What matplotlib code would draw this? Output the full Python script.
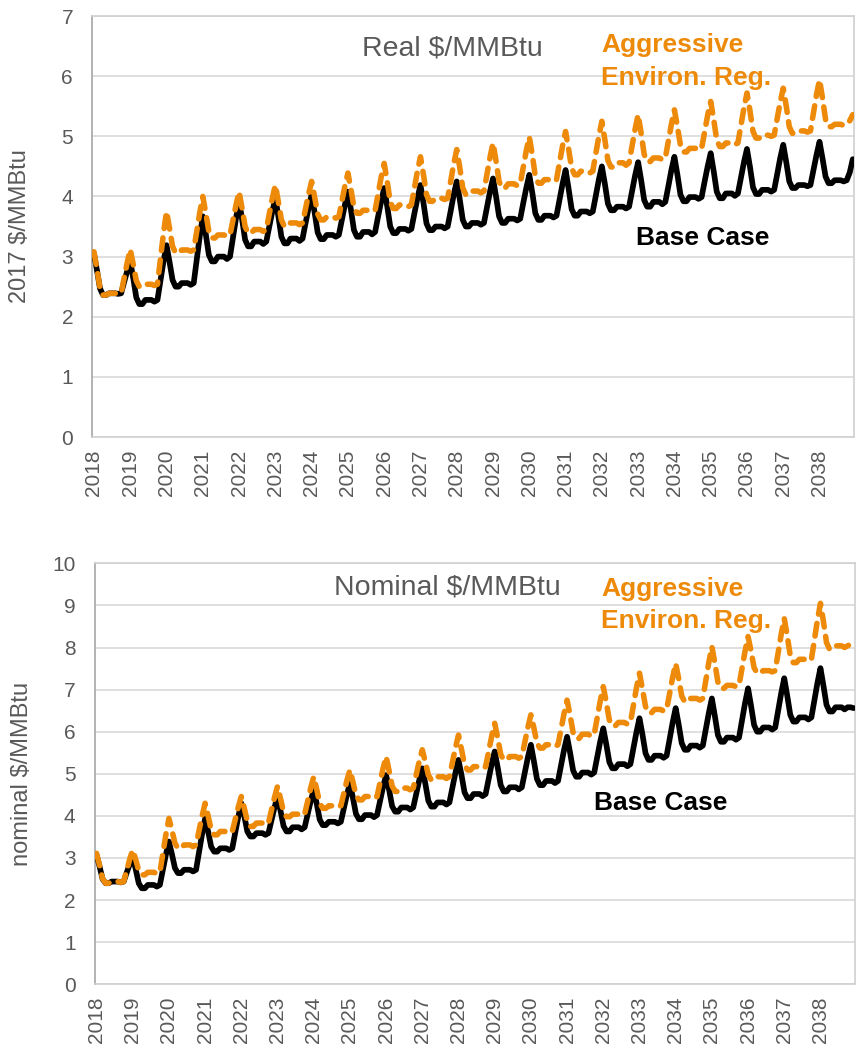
import numpy as np
import matplotlib
matplotlib.use('Agg')
import matplotlib.pyplot as plt

plt.rcParams['font.family'] = ['Liberation Sans', 'DejaVu Sans']

years = list(range(2018, 2039))
months = 12

# monthly prices, one row per year (Jan..Dec)
real_base = [
    [3.05, 2.77, 2.47, 2.36, 2.36, 2.39, 2.39, 2.39, 2.38, 2.39, 2.58, 2.76],
    [2.92, 2.64, 2.32, 2.21, 2.21, 2.28, 2.28, 2.28, 2.25, 2.28, 2.60, 2.92],
    [3.19, 2.91, 2.61, 2.50, 2.50, 2.56, 2.56, 2.56, 2.53, 2.56, 2.95, 3.34],
    [3.67, 3.37, 3.03, 2.92, 2.92, 3.00, 3.00, 3.00, 2.96, 3.00, 3.32, 3.64],
    [3.92, 3.62, 3.28, 3.17, 3.17, 3.25, 3.25, 3.25, 3.21, 3.25, 3.50, 3.75],
    [3.97, 3.67, 3.33, 3.22, 3.22, 3.30, 3.30, 3.30, 3.26, 3.30, 3.56, 3.81],
    [4.03, 3.73, 3.40, 3.29, 3.29, 3.36, 3.36, 3.36, 3.33, 3.36, 3.61, 3.86],
    [4.08, 3.78, 3.44, 3.33, 3.33, 3.41, 3.41, 3.41, 3.37, 3.41, 3.67, 3.92],
    [4.14, 3.84, 3.50, 3.39, 3.39, 3.46, 3.46, 3.46, 3.43, 3.46, 3.72, 3.97],
    [4.19, 3.89, 3.55, 3.44, 3.44, 3.50, 3.50, 3.50, 3.47, 3.50, 3.76, 4.03],
    [4.25, 3.95, 3.61, 3.50, 3.50, 3.56, 3.56, 3.56, 3.53, 3.56, 3.82, 4.08],
    [4.30, 4.00, 3.67, 3.56, 3.56, 3.63, 3.63, 3.63, 3.60, 3.63, 3.89, 4.14],
    [4.36, 4.06, 3.72, 3.61, 3.61, 3.68, 3.68, 3.68, 3.65, 3.68, 3.95, 4.21],
    [4.44, 4.13, 3.79, 3.68, 3.68, 3.75, 3.75, 3.75, 3.72, 3.75, 4.01, 4.28],
    [4.50, 4.21, 3.88, 3.77, 3.77, 3.83, 3.83, 3.83, 3.80, 3.83, 4.09, 4.35],
    [4.57, 4.27, 3.94, 3.83, 3.83, 3.91, 3.91, 3.91, 3.87, 3.91, 4.17, 4.44],
    [4.66, 4.36, 4.03, 3.92, 3.92, 3.99, 3.99, 3.99, 3.96, 3.99, 4.25, 4.50],
    [4.72, 4.42, 4.08, 3.97, 3.97, 4.05, 4.05, 4.05, 4.01, 4.05, 4.31, 4.57],
    [4.79, 4.49, 4.15, 4.04, 4.04, 4.11, 4.11, 4.11, 4.08, 4.11, 4.37, 4.64],
    [4.86, 4.57, 4.25, 4.14, 4.14, 4.19, 4.19, 4.19, 4.17, 4.19, 4.44, 4.69],
    [4.91, 4.63, 4.33, 4.22, 4.22, 4.27, 4.27, 4.27, 4.25, 4.27, 4.40, 4.62],
]

real_aggr = [
    [3.08, 2.79, 2.47, 2.36, 2.36, 2.39, 2.39, 2.39, 2.38, 2.39, 2.65, 2.90],
    [3.12, 2.87, 2.60, 2.50, 2.50, 2.54, 2.54, 2.54, 2.52, 2.54, 2.96, 3.39],
    [3.75, 3.47, 3.17, 3.06, 3.06, 3.11, 3.11, 3.11, 3.09, 3.11, 3.42, 3.73],
    [4.00, 3.72, 3.42, 3.31, 3.31, 3.36, 3.36, 3.36, 3.34, 3.36, 3.61, 3.86],
    [4.08, 3.80, 3.50, 3.39, 3.39, 3.45, 3.45, 3.45, 3.42, 3.45, 3.71, 3.97],
    [4.19, 3.91, 3.61, 3.50, 3.50, 3.56, 3.56, 3.56, 3.53, 3.56, 3.80, 4.04],
    [4.25, 3.99, 3.71, 3.61, 3.61, 3.66, 3.66, 3.66, 3.64, 3.66, 3.92, 4.17],
    [4.39, 4.12, 3.82, 3.72, 3.72, 3.77, 3.77, 3.77, 3.75, 3.77, 4.04, 4.32],
    [4.55, 4.25, 3.91, 3.80, 3.80, 3.86, 3.86, 3.86, 3.83, 3.86, 4.14, 4.42],
    [4.66, 4.36, 4.03, 3.92, 3.92, 3.97, 3.97, 3.97, 3.95, 3.97, 4.25, 4.54],
    [4.78, 4.48, 4.14, 4.03, 4.03, 4.09, 4.09, 4.09, 4.06, 4.09, 4.37, 4.65],
    [4.89, 4.59, 4.25, 4.14, 4.14, 4.21, 4.21, 4.21, 4.18, 4.21, 4.48, 4.76],
    [4.99, 4.69, 4.33, 4.22, 4.22, 4.28, 4.28, 4.28, 4.25, 4.28, 4.56, 4.84],
    [5.08, 4.79, 4.47, 4.36, 4.36, 4.42, 4.42, 4.42, 4.39, 4.42, 4.71, 5.00],
    [5.25, 4.94, 4.60, 4.49, 4.49, 4.56, 4.56, 4.56, 4.52, 4.56, 4.84, 5.12],
    [5.36, 5.05, 4.70, 4.58, 4.58, 4.64, 4.64, 4.64, 4.61, 4.64, 4.92, 5.20],
    [5.44, 5.16, 4.85, 4.74, 4.74, 4.80, 4.80, 4.80, 4.77, 4.80, 5.07, 5.35],
    [5.58, 5.28, 4.94, 4.83, 4.83, 4.89, 4.89, 4.89, 4.86, 4.89, 5.18, 5.47],
    [5.72, 5.42, 5.08, 4.97, 4.97, 5.02, 5.02, 5.02, 5.00, 5.02, 5.29, 5.57],
    [5.80, 5.50, 5.16, 5.05, 5.05, 5.09, 5.09, 5.09, 5.07, 5.09, 5.39, 5.69],
    [5.94, 5.63, 5.28, 5.16, 5.16, 5.20, 5.20, 5.20, 5.18, 5.20, 5.26, 5.36],
]

nom_base = [
    [3.07, 2.80, 2.50, 2.40, 2.40, 2.44, 2.44, 2.44, 2.42, 2.44, 2.65, 2.85],
    [3.03, 2.73, 2.40, 2.28, 2.28, 2.36, 2.36, 2.36, 2.32, 2.36, 2.72, 3.08],
    [3.39, 3.09, 2.76, 2.64, 2.64, 2.72, 2.72, 2.72, 2.68, 2.72, 3.15, 3.57],
    [3.94, 3.63, 3.27, 3.15, 3.15, 3.23, 3.23, 3.23, 3.19, 3.23, 3.60, 3.98],
    [4.30, 3.99, 3.63, 3.51, 3.51, 3.59, 3.59, 3.59, 3.55, 3.59, 3.89, 4.20],
    [4.46, 4.12, 3.76, 3.63, 3.63, 3.73, 3.73, 3.73, 3.68, 3.73, 4.04, 4.35],
    [4.62, 4.29, 3.91, 3.78, 3.78, 3.86, 3.86, 3.86, 3.82, 3.86, 4.18, 4.50],
    [4.77, 4.43, 4.05, 3.92, 3.92, 4.02, 4.02, 4.02, 3.97, 4.02, 4.35, 4.69],
    [4.97, 4.62, 4.23, 4.10, 4.10, 4.20, 4.20, 4.20, 4.15, 4.20, 4.53, 4.85],
    [5.13, 4.77, 4.36, 4.22, 4.22, 4.32, 4.32, 4.32, 4.27, 4.32, 4.67, 5.03],
    [5.33, 4.97, 4.56, 4.42, 4.42, 4.52, 4.52, 4.52, 4.47, 4.52, 4.87, 5.23],
    [5.53, 5.15, 4.73, 4.58, 4.58, 4.68, 4.68, 4.68, 4.63, 4.68, 5.03, 5.39],
    [5.69, 5.30, 4.88, 4.73, 4.73, 4.83, 4.83, 4.83, 4.78, 4.83, 5.20, 5.57],
    [5.88, 5.50, 5.08, 4.93, 4.93, 5.03, 5.03, 5.03, 4.98, 5.03, 5.40, 5.77],
    [6.08, 5.70, 5.28, 5.13, 5.13, 5.23, 5.23, 5.23, 5.18, 5.23, 5.61, 5.99],
    [6.32, 5.93, 5.49, 5.33, 5.33, 5.43, 5.43, 5.43, 5.38, 5.43, 5.83, 6.22],
    [6.56, 6.17, 5.73, 5.57, 5.57, 5.67, 5.67, 5.67, 5.62, 5.67, 6.06, 6.45],
    [6.79, 6.37, 5.92, 5.76, 5.76, 5.86, 5.86, 5.86, 5.81, 5.86, 6.27, 6.68],
    [7.03, 6.61, 6.16, 6.00, 6.00, 6.10, 6.10, 6.10, 6.05, 6.10, 6.51, 6.92],
    [7.27, 6.85, 6.40, 6.24, 6.24, 6.34, 6.34, 6.34, 6.29, 6.34, 6.75, 7.16],
    [7.51, 7.09, 6.64, 6.48, 6.48, 6.58, 6.58, 6.58, 6.53, 6.58, 6.58, 6.56],
]

nom_aggr = [
    [3.11, 2.83, 2.51, 2.40, 2.40, 2.44, 2.44, 2.44, 2.42, 2.44, 2.70, 2.97],
    [3.19, 2.96, 2.70, 2.60, 2.60, 2.66, 2.66, 2.66, 2.63, 2.66, 3.11, 3.56],
    [3.94, 3.66, 3.35, 3.23, 3.23, 3.31, 3.31, 3.31, 3.27, 3.31, 3.66, 4.00],
    [4.30, 4.00, 3.67, 3.55, 3.55, 3.63, 3.63, 3.63, 3.59, 3.63, 3.92, 4.21],
    [4.46, 4.18, 3.87, 3.75, 3.75, 3.83, 3.83, 3.83, 3.79, 3.83, 4.13, 4.44],
    [4.70, 4.41, 4.10, 3.98, 3.98, 4.04, 4.04, 4.04, 4.01, 4.04, 4.35, 4.66],
    [4.93, 4.63, 4.30, 4.18, 4.18, 4.24, 4.24, 4.24, 4.21, 4.24, 4.54, 4.84],
    [5.09, 4.81, 4.50, 4.38, 4.38, 4.46, 4.46, 4.46, 4.42, 4.46, 4.79, 5.13],
    [5.41, 5.07, 4.71, 4.58, 4.58, 4.66, 4.66, 4.66, 4.62, 4.66, 4.98, 5.30],
    [5.57, 5.28, 4.97, 4.85, 4.85, 4.93, 4.93, 4.93, 4.89, 4.93, 5.28, 5.62],
    [5.92, 5.58, 5.22, 5.09, 5.09, 5.17, 5.17, 5.17, 5.13, 5.17, 5.53, 5.89],
    [6.20, 5.85, 5.46, 5.33, 5.33, 5.41, 5.41, 5.41, 5.37, 5.41, 5.76, 6.10],
    [6.40, 6.09, 5.73, 5.61, 5.61, 5.69, 5.69, 5.69, 5.65, 5.69, 6.06, 6.43],
    [6.75, 6.39, 5.98, 5.84, 5.84, 5.94, 5.94, 5.94, 5.89, 5.94, 6.34, 6.73],
    [7.07, 6.70, 6.28, 6.14, 6.14, 6.22, 6.22, 6.22, 6.18, 6.22, 6.63, 7.04],
    [7.39, 7.01, 6.60, 6.45, 6.45, 6.53, 6.53, 6.53, 6.49, 6.53, 6.91, 7.29],
    [7.62, 7.26, 6.85, 6.71, 6.71, 6.79, 6.79, 6.79, 6.75, 6.79, 7.22, 7.65],
    [8.02, 7.63, 7.18, 7.03, 7.03, 7.10, 7.10, 7.10, 7.07, 7.10, 7.51, 7.91],
    [8.26, 7.91, 7.52, 7.39, 7.39, 7.45, 7.45, 7.45, 7.42, 7.45, 7.88, 8.32],
    [8.69, 8.27, 7.80, 7.64, 7.64, 7.72, 7.72, 7.72, 7.68, 7.72, 8.19, 8.65],
    [9.05, 8.61, 8.12, 7.96, 7.96, 8.04, 8.04, 8.04, 8.00, 8.04, 8.08, 8.10],
]

ORANGE = '#EE8A0A'
GRAY = '#595959'

fig = plt.figure(figsize=(8.56, 10.49), dpi=100)
ax1 = fig.add_axes([0.108, 0.5834, 0.890, 0.4013])
ax2 = fig.add_axes([0.111, 0.0617, 0.888, 0.4013])

panels = [
    (ax1, real_base, real_aggr, 7, '2017 $/MMBtu', 'Real $/MMBtu',
     (0.472, 0.907), (0.668, 0.915, 0.836), (0.7135, 0.456)),
    (ax2, nom_base, nom_aggr, 10, 'nominal $/MMBtu', 'Nominal $/MMBtu',
     (0.464, 0.925), (0.666, 0.922, 0.846), (0.657, 0.414)),
]

for ax, base, aggr, ymax, ylab, title, tpos, apos, bpos in panels:
    b = np.ravel(base)
    a = np.ravel(aggr)
    x = np.arange(len(b))
    ax.plot(x, b, color='black', lw=4.1, solid_joinstyle='round',
            solid_capstyle='round', zorder=3)
    ax.plot(x, a, color=ORANGE, lw=4.0, linestyle=(0, (2.3, 1.7)),
            dash_capstyle='round', zorder=4)

    ax.set_xlim(-0.5, len(b) - 0.5)
    ax.set_ylim(0, ymax)
    ax.set_yticks(range(0, ymax + 1))
    ax.set_xticks(np.arange(len(years)) * months)
    ax.set_xticklabels([str(y) for y in years], rotation=90)
    ax.tick_params(axis='both', length=0, labelsize=15, colors=GRAY)
    ax.tick_params(axis='y', pad=14)
    ax.tick_params(axis='x', pad=9)
    ax.yaxis.grid(True, color='#D9D9D9', lw=1.2)
    ax.set_axisbelow(True)
    for side in ['top', 'right', 'bottom']:
        ax.spines[side].set_color('#D0D0D0')
        ax.spines[side].set_linewidth(1.2)
    ax.spines['left'].set_color('#A6A6A6')
    ax.spines['left'].set_linewidth(1.2)

    ax.set_ylabel(ylab, fontsize=17, color=GRAY)
    ax.yaxis.set_label_coords(-0.081, 0.5)

    ax.text(tpos[0], tpos[1], title, transform=ax.transAxes, fontsize=20.5,
            color=GRAY, ha='center', va='baseline')
    ax.text(apos[0], apos[1], 'Aggressive', transform=ax.transAxes, fontsize=19,
            fontweight='bold', color=ORANGE, ha='left', va='baseline')
    ax.text(apos[0], apos[2], 'Environ. Reg.', transform=ax.transAxes, fontsize=19,
            fontweight='bold', color=ORANGE, ha='left', va='baseline')
    ax.text(bpos[0], bpos[1], 'Base Case', transform=ax.transAxes, fontsize=19,
            fontweight='bold', color='black', ha='left', va='baseline')

fig.savefig('out.png', dpi=100)
